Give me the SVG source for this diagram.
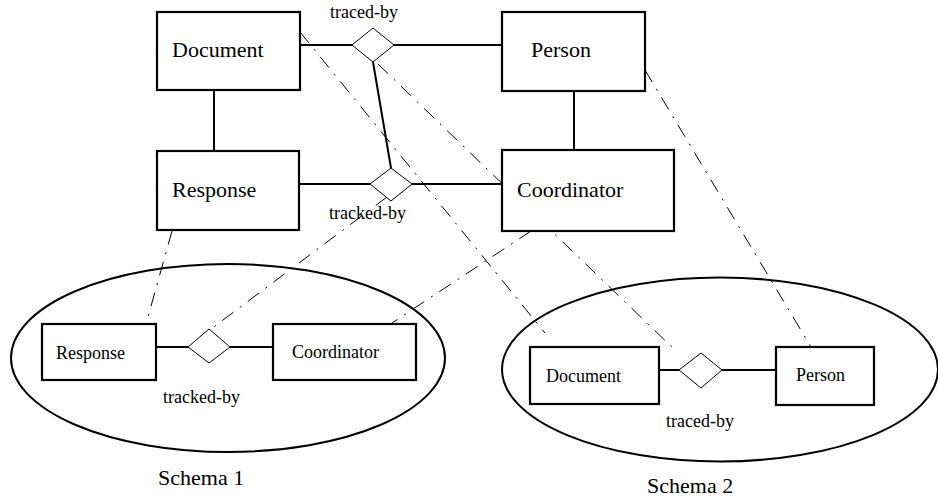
<svg xmlns="http://www.w3.org/2000/svg" width="938" height="500" viewBox="0 0 938 500">
<style>
.box{fill:#fff;stroke:#000;stroke-width:2.2}
.dia{fill:#fff;stroke:#000;stroke-width:1}
.ell{fill:none;stroke:#000;stroke-width:2}
.ln{stroke:#000;stroke-width:2;fill:none}
.dd{stroke:#000;stroke-width:1;fill:none;stroke-dasharray:14 8 2 8}
text{fill:#000}
.big{font-size:22px}
.sm{font-size:18px}
</style>
<rect width="938" height="500" fill="#fff"/>
<g id="schema1-outline"><ellipse class="ell" cx="228" cy="358" rx="217" ry="94"/></g>
<g id="schema2-outline"><ellipse class="ell" cx="720" cy="369.5" rx="218" ry="92"/></g>
<g id="connectors">
<line class="ln" x1="300" y1="45" x2="352" y2="45"/>
<line class="ln" x1="394" y1="45" x2="502" y2="45"/>
<line class="ln" x1="299" y1="184" x2="370" y2="184"/>
<line class="ln" x1="412" y1="184" x2="502" y2="184"/>
<line class="ln" x1="373" y1="62" x2="391" y2="168"/>
<line class="ln" x1="214" y1="90" x2="214" y2="151"/>
<line class="ln" x1="574" y1="91" x2="574" y2="150"/>
<line class="ln" x1="156" y1="347" x2="188" y2="347"/>
<line class="ln" x1="230" y1="347" x2="273" y2="347"/>
<line class="ln" x1="659" y1="370" x2="679" y2="370"/>
<line class="ln" x1="722" y1="370" x2="776" y2="370"/>
<line class="dd" x1="172" y1="231" x2="146" y2="324"/>
<line class="dd" x1="387" y1="197" x2="211" y2="329"/>
<line class="dd" x1="531" y1="231" x2="392" y2="323"/>
<line class="dd" x1="300" y1="32" x2="545" y2="333"/>
<line class="dd" x1="378" y1="64" x2="676" y2="351"/>
<line class="dd" x1="645" y1="70" x2="811" y2="347"/>
</g>
<g font-family="Liberation Serif, Times New Roman, Times, DejaVu Serif, serif">
<g id="document"><rect class="box" x="157" y="12" width="143" height="78"/><text class="big" x="172" y="57">Document</text></g>
<g id="person"><rect class="box" x="502" y="12" width="143" height="79"/><text class="big" x="531" y="57">Person</text></g>
<g id="response"><rect class="box" x="157" y="151" width="142" height="79"/><text class="big" x="172" y="197">Response</text></g>
<g id="coordinator"><rect class="box" x="502" y="150" width="172" height="81"/><text class="big" x="517" y="197">Coordinator</text></g>
<g id="traced-by"><polygon class="dia" points="352,45 373,28 394,45 373,62"/><text class="sm" x="330" y="18">traced-by</text></g>
<g id="tracked-by"><polygon class="dia" points="370,184 391,168 412,184 391,201"/><text class="sm" x="329" y="219">tracked-by</text></g>
<g id="s1-response"><rect class="box" x="42" y="324" width="114" height="56"/><text class="sm" x="56" y="359">Response</text></g>
<g id="s1-coordinator"><rect class="box" x="273" y="324" width="143" height="56"/><text class="sm" x="292" y="358">Coordinator</text></g>
<g id="s1-tracked-by"><polygon class="dia" points="188,347 209,329 230,347 209,363"/><text class="sm" x="163" y="403">tracked-by</text></g>
<g id="s2-document"><rect class="box" x="530" y="347" width="129" height="57"/><text class="sm" x="546" y="382">Document</text></g>
<g id="s2-person"><rect class="box" x="776" y="347" width="98" height="58"/><text class="sm" x="796" y="381">Person</text></g>
<g id="s2-traced-by"><polygon class="dia" points="679,370 701,353 722,370 701,388"/><text class="sm" x="666" y="427">traced-by</text></g>
<g id="schema-labels"><text class="big" x="158" y="485">Schema 1</text><text class="big" x="647" y="493">Schema 2</text></g>
</g>
</svg>
